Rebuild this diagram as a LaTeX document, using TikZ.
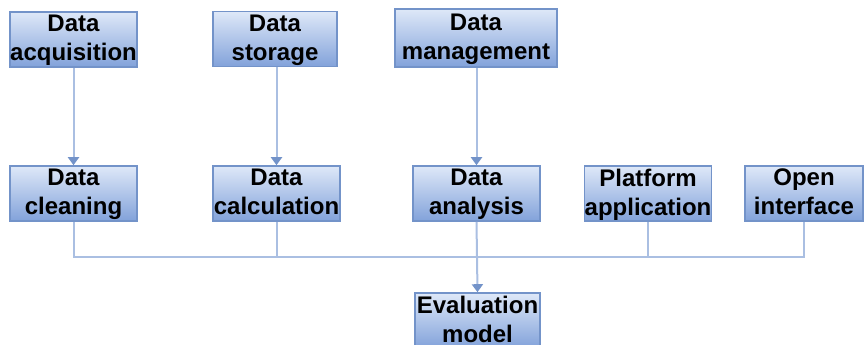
\documentclass[tikz,border=0pt]{standalone}
\usepackage{fontspec}
\setmainfont{Liberation Sans}
\usepackage{xcolor}
\usetikzlibrary{arrows.meta,positioning,calc,shadings}

\definecolor{boxtop}{HTML}{DEE8F8}
\definecolor{boxbot}{HTML}{82A2DA}
\definecolor{boxline}{HTML}{7393C9}
\definecolor{linkblue}{HTML}{AABFE2}
\definecolor{tipblue}{HTML}{7393C9}

\begin{document}
\begin{tikzpicture}[
  x=1pt, y=-1pt,
  box/.style={draw=boxline, line width=1.6pt, top color=boxtop, bottom color=boxbot,
    align=center, inner sep=0pt, minimum width=127pt, minimum height=55pt,
    text depth=3pt, font=\bfseries\fontsize{24}{29}\selectfont},
  link/.style={draw=linkblue, line width=2pt},
  tip/.style={-{Triangle[length=8pt,width=11pt,color=tipblue]}}
]
\useasboundingbox (0,0) rectangle (864,345);

% top row
\node[box] (acq) at (73.5,39.5) {Data\\acquisition};
\node[box, minimum width=124pt] (store) at (275,39) {Data\\storage};
\node[box, minimum width=162pt, minimum height=58pt] (manage) at (476,38) {Data\\management};

% middle row
\node[box] (clean) at (73.5,193.5) {Data\\cleaning};
\node[box] (calc) at (276.5,193.5) {Data\\calculation};
\node[box] (analysis) at (476.5,193.5) {Data\\analysis};
\node[box, minimum width=124pt] (plat) at (648,193.5) {Platform\\application};
\node[box, minimum width=118pt] (open) at (804,193.5) {Open\\interface};

% bottom
\node[box, minimum width=125pt] (eval) at (477.5,320.5) {Evaluation\\model};

\coordinate (bus) at (0,257);

\draw[link, tip] (clean.north |- acq.south) -- (clean.north);
\draw[link, tip] (calc.north |- store.south) -- (calc.north);
\draw[link, tip] (analysis.north |- manage.south) -- (analysis.north);

\draw[link] (clean.south) |- (open.south |- bus) -- (open.south);
\draw[link] (calc.south) -- (calc.south |- bus);
\draw[link] (plat.south) -- (plat.south |- bus);
\draw[link, tip] (analysis.south) -- (eval.north);
\end{tikzpicture}
\end{document}
